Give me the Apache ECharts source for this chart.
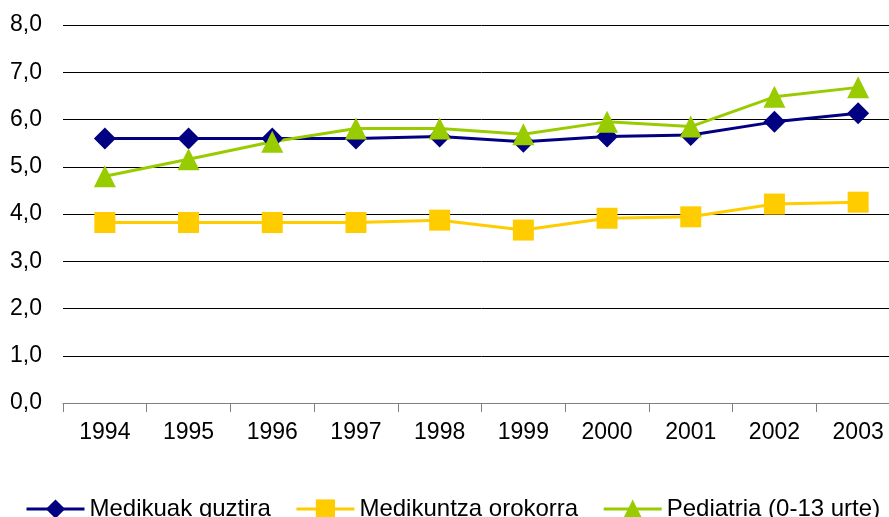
<!doctype html>
<html>
<head>
    <meta charset="utf-8">
    <script src="https://cdn.jsdelivr.net/npm/echarts@6/dist/echarts.min.js"></script>
</head>
<body style="margin: 0; background: #fff; overflow: hidden">
    <!-- the plot runs a little past the right edge of the picture, so the canvas is wider than the window -->
    <div id="container" style="width: 900px; height: 517px"></div>
    <script type="text/javascript">
        var years = ['1994', '1995', '1996', '1997', '1998', '1999', '2000', '2001', '2002', '2003'];
        var medikuak = [5.60, 5.60, 5.60, 5.60, 5.64, 5.53, 5.64, 5.67, 5.95, 6.13];
        var orokorra = [3.82, 3.82, 3.82, 3.82, 3.87, 3.66, 3.91, 3.94, 4.21, 4.25];
        var pediatria = [4.80, 5.16, 5.53, 5.81, 5.81, 5.69, 5.95, 5.85, 6.48, 6.68];

        var font = 'Liberation Sans, Arial, sans-serif';
        var chart = echarts.init(document.getElementById('container'));

        function line(name, data, color, symbol, size) {
            return {
                name: name,
                type: 'line',
                data: data,
                symbol: symbol,
                symbolSize: size,
                showAllSymbol: true,
                lineStyle: { color: color, width: 3 },
                itemStyle: { color: color },
                emphasis: { disabled: true },
                animation: false
            };
        }

        chart.setOption({
            backgroundColor: '#fff',
            grid: { left: 63, top: 25, right: 0, bottom: 114, containLabel: false },
            legend: {
                left: 20,
                top: 492,
                itemWidth: 58,
                itemHeight: 24,
                itemGap: 24,
                lineStyle: { width: 3 },
                textStyle: { fontFamily: font, fontSize: 24, color: '#000' },
                data: ['Medikuak guztira', 'Medikuntza orokorra', 'Pediatria (0-13 urte)']
            },
            xAxis: {
                type: 'category',
                data: years,
                boundaryGap: true,
                axisLine: { lineStyle: { color: '#808080', width: 1 } },
                axisTick: { show: true, length: 9, lineStyle: { color: '#808080' } },
                axisLabel: { fontFamily: font, fontSize: 23, color: '#000', margin: 18 }
            },
            yAxis: {
                type: 'value',
                min: 0,
                max: 8,
                interval: 1,
                axisLine: { show: false },
                axisTick: { show: false },
                splitLine: { lineStyle: { color: '#000', width: 1 } },
                axisLabel: {
                    fontFamily: font, fontSize: 23, color: '#000', margin: 21,
                    formatter: function (v) { return v.toFixed(1).replace('.', ','); }
                }
            },
            series: [
                line('Medikuak guztira', medikuak, '#000080', 'diamond', 22),
                line('Medikuntza orokorra', orokorra, '#FFCC00', 'rect', 21),
                line('Pediatria (0-13 urte)', pediatria, '#99CC00', 'triangle', 22)
            ]
        });
    </script>
</body>
</html>
